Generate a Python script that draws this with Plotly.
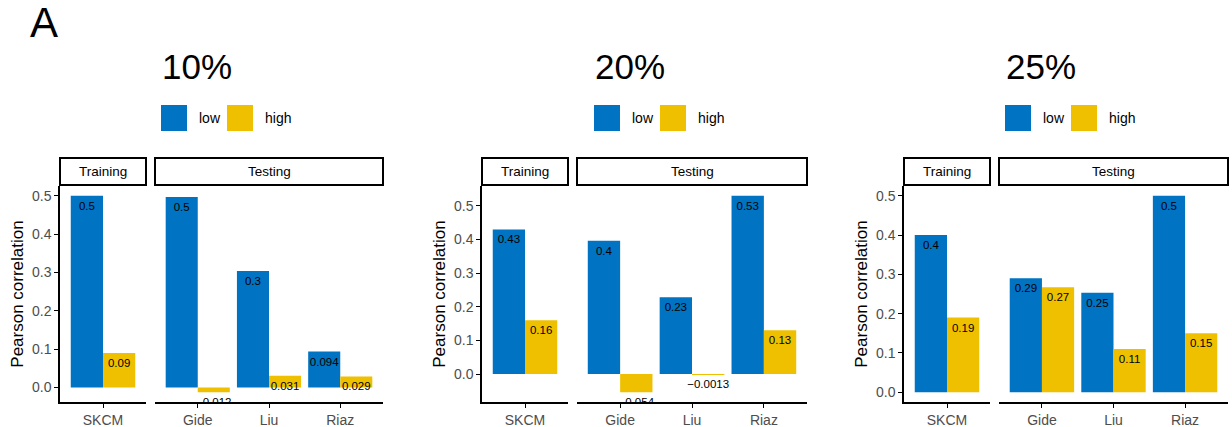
import plotly.graph_objects as go

# ---- data -------------------------------------------------------------
panel_titles = ["10%", "20%", "25%"]
train_cohorts = ["SKCM"]
test_cohorts = ["Gide", "Liu", "Riaz"]
groups = ["low", "high"]

# Pearson correlation per cohort, one list per panel (training, testing)
train_low = [[0.5], [0.43], [0.4]]
train_high = [[0.09], [0.16], [0.19]]
test_low = [[0.497, 0.304, 0.094], [0.396, 0.228, 0.53], [0.29, 0.253, 0.5]]
test_high = [[-0.012, 0.031, 0.029], [-0.054, -0.0013, 0.13], [0.267, 0.11, 0.15]]

y_ticks = [0.0, 0.1, 0.2, 0.3, 0.4, 0.5]

# ---- styling ----------------------------------------------------------
COLORS = {"low": "#0073C2", "high": "#EFC000"}
W, H = 1232, 427
FONT = "Liberation Sans, Arial, sans-serif"
TICK_GREY = "#4D4D4D"

# facet geometry in pixels: (training x0, x1), (testing x0, x1)
facet_px = [
    ((60, 146), (155, 383)),
    ((482, 568), (577, 807)),
    ((904, 990), (999, 1228)),
]
plot_top, plot_bottom = 186, 402
strip_top, strip_bottom = 158, 185
title_x = [162, 595, 1006]


def px(x):
    return x / W


def py(y):
    return 1 - y / H


def fmt(v):
    s = f"{v:.2g}"
    return s.replace("-", "\u2212")


BAR_W = 0.45

fig = go.Figure()
layout = dict(
    width=W, height=H, margin=dict(l=0, r=0, t=0, b=0),
    plot_bgcolor="white", paper_bgcolor="white",
    font=dict(family=FONT, color="black"),
    showlegend=False,
)
shapes, annotations = [], []

ax = 0
for p in range(3):
    vals_all = train_low[p] + train_high[p] + test_low[p] + test_high[p]
    lo, hi = min(0.0, min(vals_all)), max(0.0, max(vals_all))
    pad = 0.05 * (hi - lo)
    yrange = [lo - pad, hi + pad]

    facets = [
        ("Training", train_cohorts, train_low[p], train_high[p]),
        ("Testing", test_cohorts, test_low[p], test_high[p]),
    ]
    for f, (strip, cohorts, lows, highs) in enumerate(facets):
        ax += 1
        xa = "x" if ax == 1 else f"x{ax}"
        ya = "y" if ax == 1 else f"y{ax}"
        pos = list(range(1, len(cohorts) + 1))
        x0p, x1p = facet_px[p][f]

        for g, vals, off in (("low", lows, -BAR_W), ("high", highs, 0.0)):
            fig.add_trace(go.Bar(
                x=pos, y=vals, width=BAR_W, offset=off,
                marker=dict(color=COLORS[g], line=dict(width=0)),
                name=g, xaxis=xa, yaxis=ya, hoverinfo="skip",
            ))
            # value labels hang just below the bar end; an invisible
            # marker gives them a little gap
            fig.add_trace(go.Scatter(
                x=[q + off + BAR_W / 2 for q in pos], y=vals,
                mode="markers+text", text=[fmt(v) for v in vals],
                marker=dict(size=7, opacity=0),
                textposition="bottom center",
                textfont=dict(size=11.5, color="black", family=FONT),
                cliponaxis=True, xaxis=xa, yaxis=ya, hoverinfo="skip",
            ))

        layout[xa.replace("x", "xaxis")] = dict(
            domain=[px(x0p), px(x1p)], anchor=ya,
            range=[0.4, len(cohorts) + 0.6],
            tickmode="array", tickvals=pos, ticktext=cohorts,
            ticks="outside", ticklen=4, tickwidth=1, tickcolor="black",
            tickfont=dict(size=14, color=TICK_GREY, family=FONT),
            showline=True, linecolor="black", linewidth=1.5,
            showgrid=False, zeroline=False, fixedrange=True,
        )
        ydict = dict(
            domain=[py(plot_bottom), py(plot_top)], anchor=xa,
            range=yrange, showgrid=False, zeroline=False, fixedrange=True,
        )
        if f == 0:
            ydict.update(
                tickmode="array", tickvals=y_ticks,
                ticktext=[f"{t:.1f}" for t in y_ticks],
                ticks="outside", ticklen=4, tickwidth=1, tickcolor="black",
                tickfont=dict(size=14, color=TICK_GREY, family=FONT),
                showline=True, linecolor="black", linewidth=1.5,
                title=dict(text="Pearson correlation",
                           font=dict(size=17, color="black", family=FONT),
                           standoff=4),
            )
        else:
            ydict.update(showticklabels=False, ticks="", showline=False)
        layout[ya.replace("y", "yaxis")] = ydict

        # facet strip
        shapes.append(dict(
            type="rect", xref="paper", yref="paper",
            x0=px(x0p), x1=px(x1p), y0=py(strip_bottom), y1=py(strip_top),
            line=dict(color="black", width=2), fillcolor="white",
        ))
        annotations.append(dict(
            text=strip, xref="paper", yref="paper",
            x=px((x0p + x1p) / 2), y=py((strip_top + strip_bottom) / 2),
            xanchor="center", yanchor="middle", showarrow=False,
            font=dict(size=13.5, color="black", family=FONT),
        ))

    # panel title
    tx = title_x[p]
    annotations.append(dict(
        text=panel_titles[p], xref="paper", yref="paper",
        x=px(tx - 2), y=py(67), xanchor="left", yanchor="middle",
        showarrow=False, font=dict(size=35, color="black", family=FONT),
    ))
    # legend keys
    for k, g in enumerate(groups):
        kx = tx - 1 + k * 66
        shapes.append(dict(
            type="rect", xref="paper", yref="paper",
            x0=px(kx), x1=px(kx + 26), y0=py(131), y1=py(105),
            line=dict(width=0), fillcolor=COLORS[g],
        ))
        annotations.append(dict(
            text=g, xref="paper", yref="paper",
            x=px(kx + 36), y=py(118), xanchor="left", yanchor="middle",
            showarrow=False, font=dict(size=14, color="black", family=FONT),
        ))

annotations.append(dict(
    text="A", xref="paper", yref="paper", x=px(28), y=py(23),
    xanchor="left", yanchor="middle", showarrow=False,
    font=dict(size=42, color="black", family=FONT),
))

layout["shapes"] = shapes
layout["annotations"] = annotations
layout["barmode"] = "overlay"
fig.update_layout(**layout)
fig.write_html("out.html")
